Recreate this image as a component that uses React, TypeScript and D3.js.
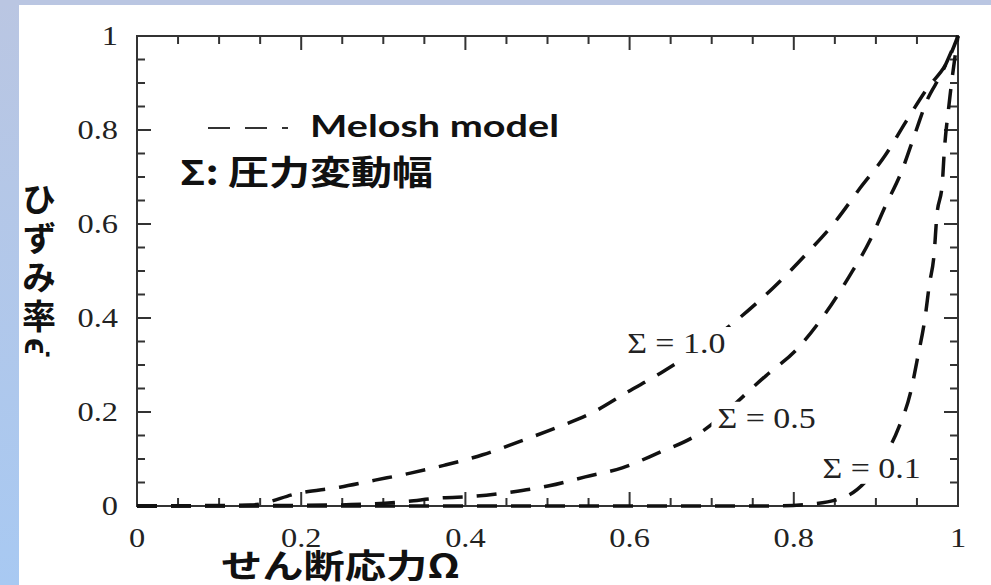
import * as d3 from "d3";

// Melosh model: strain rate vs. shear stress, one curve per pressure amplitude
const seriesNames = ["Σ = 1.0", "Σ = 0.5", "Σ = 0.1"];

const omega10 = [0, 0.138, 0.199, 0.247, 0.29, 0.333, 0.375, 0.421, 0.464, 0.51, 0.554, 0.598, 0.638, 0.731, 0.776, 0.814, 0.85, 0.881, 0.911, 0.937, 0.962, 0.988, 1];
const rate10 = [0, 0.002, 0.028, 0.04, 0.055, 0.07, 0.087, 0.109, 0.136, 0.166, 0.198, 0.243, 0.283, 0.396, 0.466, 0.534, 0.604, 0.677, 0.745, 0.819, 0.887, 0.949, 1];

const omega05 = [0, 0.238, 0.28, 0.324, 0.369, 0.413, 0.457, 0.502, 0.546, 0.591, 0.635, 0.678, 0.766, 0.804, 0.839, 0.867, 0.893, 0.911, 0.932, 0.948, 0.962, 0.979, 1];
const rate05 = [0, 0.002, 0.004, 0.009, 0.017, 0.021, 0.03, 0.043, 0.062, 0.081, 0.113, 0.147, 0.277, 0.334, 0.411, 0.487, 0.566, 0.636, 0.715, 0.794, 0.862, 0.917, 1];

const omega01 = [0, 0.771, 0.82, 0.862, 0.899, 0.928, 0.942, 0.951, 0.96, 0.965, 0.971, 0.974, 0.981, 0.983, 0.989, 1];
const rate01 = [0, 0, 0.004, 0.019, 0.077, 0.168, 0.24, 0.317, 0.402, 0.47, 0.538, 0.613, 0.689, 0.747, 0.853, 1];

const omegaTicks = [0, 0.2, 0.4, 0.6, 0.8, 1];
const rateTicks = [0, 0.2, 0.4, 0.6, 0.8, 1];

const W = 991;
const H = 585;
const plot = { left: 137, right: 958, top: 36, bottom: 506 };

const serif = "'Liberation Serif', 'Times New Roman', serif";
const jp = "'Noto Sans CJK JP', sans-serif";

const App = () => {
  const x = d3.scaleLinear().domain([0, 1]).range([plot.left, plot.right]);
  const y = d3.scaleLinear().domain([0, 1]).range([plot.bottom, plot.top]);

  const line = d3
    .line<[number, number]>()
    .x((d) => x(d[0]))
    .y((d) => y(d[1]))
    .curve(d3.curveMonotoneX);

  const series = [
    { name: seriesNames[0], pts: d3.zip(omega10, rate10) as [number, number][], label: [0.597, 0.3255] },
    { name: seriesNames[1], pts: d3.zip(omega05, rate05) as [number, number][], label: [0.707, 0.1665] },
    { name: seriesNames[2], pts: d3.zip(omega01, rate01) as [number, number][], label: [0.835, 0.06] },
  ];

  const isMajor = (v: number) => Math.abs(v * 5 - Math.round(v * 5)) < 1e-6;
  const fmt = d3.format("~g");
  const xMinor = x.ticks(20);
  const yMinor = y.ticks(20);

  return (
    <svg width={W} height={H} style={{ position: "absolute", left: 0, top: 0 }}>
      <defs>
        <linearGradient id="side" x1="0" y1="0" x2="0" y2="1">
          <stop offset="0" stopColor="#bac6e2" />
          <stop offset="1" stopColor="#a8c9f2" />
        </linearGradient>
      </defs>
      <rect x={0} y={0} width={W} height={H} fill="url(#side)" />
      <rect x={0} y={0} width={W} height={5} fill="#bac6e2" />
      <rect x={19} y={5} width={W - 19} height={H - 5} fill="#fff" />

      {/* ticks, inward on all four sides */}
      <g stroke="#333" strokeWidth={2}>
        {xMinor.map((v) => {
          const len = isMajor(v) ? 14 : 8;
          return (
            <g key={`xt${v}`}>
              <line x1={x(v)} x2={x(v)} y1={plot.bottom} y2={plot.bottom - len} />
              <line x1={x(v)} x2={x(v)} y1={plot.top} y2={plot.top + len} />
            </g>
          );
        })}
        {yMinor.map((v) => {
          const len = isMajor(v) ? 14 : 8;
          return (
            <g key={`yt${v}`}>
              <line x1={plot.left} x2={plot.left + len} y1={y(v)} y2={y(v)} />
              <line x1={plot.right} x2={plot.right - len} y1={y(v)} y2={y(v)} />
            </g>
          );
        })}
      </g>
      <rect
        x={plot.left}
        y={plot.top}
        width={plot.right - plot.left}
        height={plot.bottom - plot.top}
        fill="none"
        stroke="#333"
        strokeWidth={2}
      />

      {/* tick labels */}
      <g fontFamily={serif} fontSize={27} fill="#222">
        {omegaTicks.map((v) => (
          <text key={`xl${v}`} transform={`translate(${x(v)},${plot.bottom + 41}) scale(1.2,1)`} textAnchor="middle">
            {fmt(v)}
          </text>
        ))}
        {rateTicks.map((v) => (
          <text key={`yl${v}`} transform={`translate(118,${y(v) + 9}) scale(1.2,1)`} textAnchor="end">
            {fmt(v)}
          </text>
        ))}
      </g>

      {/* curves */}
      {series.map((s) => (
        <path
          key={s.name}
          d={line(s.pts) ?? ""}
          fill="none"
          stroke="#111"
          strokeWidth={3.5}
          strokeDasharray="20 14"
        />
      ))}
      {series.map((s) => {
        const lx = x(s.label[0]);
        const ly = y(s.label[1]);
        return (
          <g key={`lab${s.name}`}>
            <rect x={lx - 6} y={ly - 26} width={110} height={32} fill="#fff" />
            <text
              transform={`translate(${lx},${ly}) scale(1.17,1)`}
              fontFamily={serif}
              fontSize={29}
              fill="#222"
            >
              {s.name}
            </text>
          </g>
        );
      })}

      {/* legend */}
      <line x1={208} x2={288} y1={128} y2={128} stroke="#333" strokeWidth={2} strokeDasharray="22 15" />
      <text x={310} y={137} fontFamily="Lato, 'Open Sans', sans-serif" fontWeight="bold" fontSize={31} textLength={249} lengthAdjust="spacingAndGlyphs" fill="#111">
        Melosh model
      </text>
      <text x={180} y={185} fontFamily={jp} fontWeight="bold" fontSize={34} textLength={253} lengthAdjust="spacingAndGlyphs" fill="#111">
        Σ: 圧力変動幅
      </text>

      {/* axis titles */}
      <text x={221} y={578} fontFamily={jp} fontWeight="bold" fontSize={33} textLength={239} lengthAdjust="spacingAndGlyphs" fill="#111">
        せん断応力Ω
      </text>
      <text
        x={39}
        y={182}
        fontFamily={jp}
        fontWeight="bold"
        fontSize={34}
        letterSpacing={5}
        fill="#111"
        style={{ writingMode: "vertical-rl" }}
      >
        {"ひずみ率\u03f5\u0307"}
      </text>
    </svg>
  );
};

export default App;
